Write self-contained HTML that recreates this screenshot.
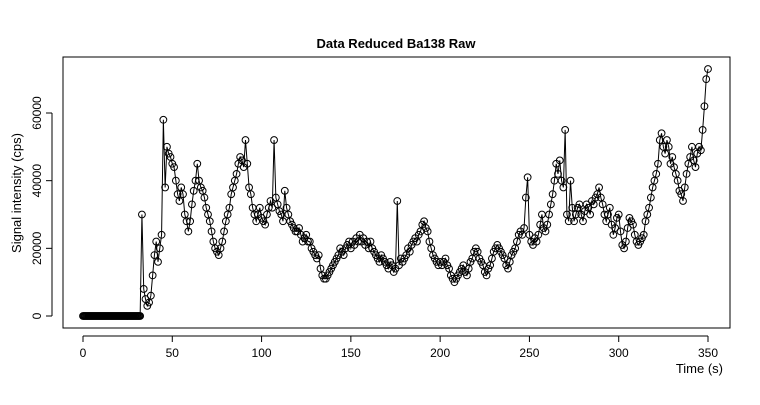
<!DOCTYPE html>
<html><head><meta charset="utf-8"><style>
body{margin:0;background:#fff}
svg{font-family:"Liberation Sans",Arial,sans-serif}
</style></head><body>
<svg id="chart" width="760" height="400">
<text x="396" y="48" text-anchor="middle" font-weight="bold" font-size="13">Data Reduced Ba138 Raw</text>
<rect x="63" y="57" width="667" height="271" fill="none" stroke="#000"/>
<text transform="translate(21,193) rotate(-90)" text-anchor="middle" font-size="13">Signal intensity (cps)</text>
<text x="723" y="373" text-anchor="end" font-size="13">Time (s)</text>
<g id="axes"></g>
<g id="marks"></g>
</svg>
<script>
const xTicks=[0,50,100,150,200,250,300,350];
const yTicks=[0,20000,40000,60000];
const zeroTimes=[];for(let t=0;t<=32;t+=0.5)zeroTimes.push(t);
const startTime=33;
const valuesK=[30,8,5,3,4,6,12,18,22,16,20,24,58,38,50,48,47,45,44,40,36,34,38,36,30,28,25,28,33,37,40,45,40,38,37,35,32,30,28,25,22,20,19,18,20,22,25,28,30,32,36,38,40,42,45,47,46,44,52,45,38,36,32,30,28,30,32,29,28,27,30,32,34,32,52,35,33,31,30,28,37,32,30,28,27,26,25,25,26,24,22,23,24,22,22,20,19,18,17,18,14,12,11,11,12,13,14,15,16,17,18,20,19,18,20,21,22,20,22,21,23,22,24,22,23,21,22,20,22,20,19,18,17,16,18,17,16,15,14,16,15,13,14,34,15,17,16,17,18,20,19,21,22,23,22,24,25,27,28,26,25,22,20,18,17,16,15,16,15,16,17,15,14,12,11,10,11,12,13,14,15,13,12,14,16,17,19,20,19,17,16,15,13,12,14,15,17,19,20,21,20,19,18,17,15,14,16,18,19,20,22,24,25,24,26,35,41,24,22,21,23,22,24,27,30,26,25,27,30,33,36,40,45,42,46,40,38,55,30,28,40,32,28,30,32,33,30,28,31,33,32,30,34,33,35,36,38,35,33,30,28,30,32,27,24,26,29,30,25,21,20,22,26,29,28,27,24,22,21,22,23,24,28,30,32,35,38,40,42,45,52,54,50,48,52,50,45,47,44,42,40,37,36,34,38,42,45,47,50,46,44,48,50,49,55,62,70,73];
const X=t=>83+t*(625/350);
const Y=v=>316-v*(203/60000);
const NS="http://www.w3.org/2000/svg";
const ax=document.getElementById('axes');
function mk(tag,attrs,parent){const e=document.createElementNS(NS,tag);for(const k in attrs)e.setAttribute(k,attrs[k]);parent.appendChild(e);return e;}
let l=mk('line',{x1:X(xTicks[0]),x2:X(xTicks[xTicks.length-1]),y1:336,y2:336,stroke:'#000'},ax);


xTicks.forEach(t=>{
 const tk=mk('line',{x1:X(t),x2:X(t),y1:336,y2:342,stroke:'#000'},ax);
 
 
 const tx=mk('text',{x:X(t),y:357,'text-anchor':'middle','font-size':12},ax);tx.textContent=t;
 
 
});
l=mk('line',{x1:52,x2:52,y1:Y(yTicks[0]),y2:Y(yTicks[yTicks.length-1]),stroke:'#000'},ax);


yTicks.forEach(v=>{
 const tk=mk('line',{x1:46,x2:52,y1:Y(v),y2:Y(v),stroke:'#000'},ax);
 
 
 const tx=mk('text',{transform:`translate(41,${Y(v)}) rotate(-90)`,'text-anchor':'middle','font-size':12},ax);tx.textContent=v;
 
 
});
const pts=zeroTimes.map(t=>[t,0]).concat(valuesK.map((v,i)=>[startTime+i,v*1000]));
const mg=document.getElementById('marks');
const line=mk('polyline',{points:pts.map(p=>X(p[0])+','+Y(p[1])).join(' '),fill:'none',stroke:'#000','stroke-width':1},mg);


pts.forEach(p=>{
 const c=mk('circle',{cx:X(p[0]),cy:Y(p[1]),r:3.4,fill:'none',stroke:'#000','stroke-width':1},mg);
 
 
});
</script>
</body></html>
